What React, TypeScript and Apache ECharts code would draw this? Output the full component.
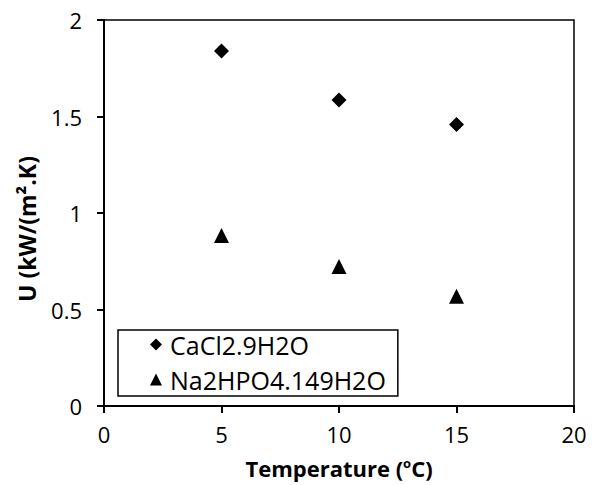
import React, { useEffect, useRef } from "react";
import * as echarts from "echarts";

const temperatures = [5, 10, 15];
const cacl2Values = [1.84, 1.586, 1.459];
const na2hpo4Values = [0.883, 0.723, 0.569];
const seriesNames = ["CaCl2.9H2O", "Na2HPO4.149H2O"];
const xTicks = { min: 0, max: 20, interval: 5 };
const yTicks = { min: 0, max: 2, interval: 0.5 };

const FONT = "Open Sans";

export default function App() {
  const ref = useRef<HTMLDivElement>(null);
  useEffect(() => {
    if (!ref.current) return;
    const chart = echarts.init(ref.current, null, { renderer: "svg" });
    chart.setOption({
      animation: false,
      backgroundColor: "#fff",
      textStyle: { fontFamily: FONT, color: "#000" },
      grid: {
        left: 104,
        right: 24,
        top: 20,
        bottom: 77,
        show: true,
        borderColor: "#000",
        borderWidth: 1.5,
        backgroundColor: "transparent",
      },
      xAxis: {
        type: "value",
        min: xTicks.min,
        max: xTicks.max,
        interval: xTicks.interval,
        name: "Temperature ({sup|o}C)",
        nameLocation: "middle",
        nameGap: 50,
        nameTextStyle: {
          fontFamily: FONT,
          fontSize: 22,
          fontWeight: "bold",
          color: "#000",
          lineHeight: 24,
          rich: {
            sup: {
              fontFamily: FONT,
              fontSize: 13,
              fontWeight: "bold",
              color: "#000",
              verticalAlign: "top",
              lineHeight: 14,
            },
          },
        },
        axisLine: { onZero: false, lineStyle: { color: "#000", width: 2 } },
        axisTick: { show: true, inside: false, length: 7, lineStyle: { color: "#000", width: 2 } },
        axisLabel: { fontFamily: FONT, fontSize: 22, color: "#000", margin: 17 },
        splitLine: { show: false },
      },
      yAxis: {
        type: "value",
        min: yTicks.min,
        max: yTicks.max,
        interval: yTicks.interval,
        name: "U (kW/(m².K)",
        nameLocation: "middle",
        nameGap: 66,
        nameTextStyle: {
          fontFamily: FONT,
          fontSize: 23,
          fontWeight: "bold",
          color: "#000",
          padding: [0, 32, 0, 0],
        },
        axisLine: { onZero: false, lineStyle: { color: "#000", width: 2 } },
        axisTick: { show: true, inside: false, length: 7, lineStyle: { color: "#000", width: 2 } },
        axisLabel: { fontFamily: FONT, fontSize: 22, color: "#000", margin: 22 },
        splitLine: { show: false },
      },
      legend: {
        orient: "vertical",
        left: 118,
        top: 330,
        data: [
          { name: seriesNames[0], icon: "diamond" },
          { name: seriesNames[1], icon: "triangle" },
        ],
        itemWidth: 12,
        itemHeight: 12,
        itemGap: 10,
        padding: [2, 12, 4, 32],
        borderColor: "#000",
        borderWidth: 1.5,
        borderRadius: 0,
        itemStyle: { opacity: 1 },
        textStyle: {
          fontFamily: FONT,
          fontSize: 25,
          color: "#000",
          lineHeight: 24,
          padding: [0, 0, 0, 3],
        },
      },
      series: [
        {
          name: seriesNames[0],
          type: "scatter",
          symbol: "diamond",
          symbolSize: 15,
          itemStyle: { color: "#000", opacity: 1 },
          data: temperatures.map((t, i) => [t, cacl2Values[i]]),
        },
        {
          name: seriesNames[1],
          type: "scatter",
          symbol: "triangle",
          symbolSize: 15,
          itemStyle: { color: "#000", opacity: 1 },
          data: temperatures.map((t, i) => [t, na2hpo4Values[i]]),
        },
      ],
    });
    return () => chart.dispose();
  }, []);
  return (
    <div
      ref={ref}
      style={{ position: "absolute", left: 0, top: 0, width: 598, height: 485 }}
    />
  );
}
